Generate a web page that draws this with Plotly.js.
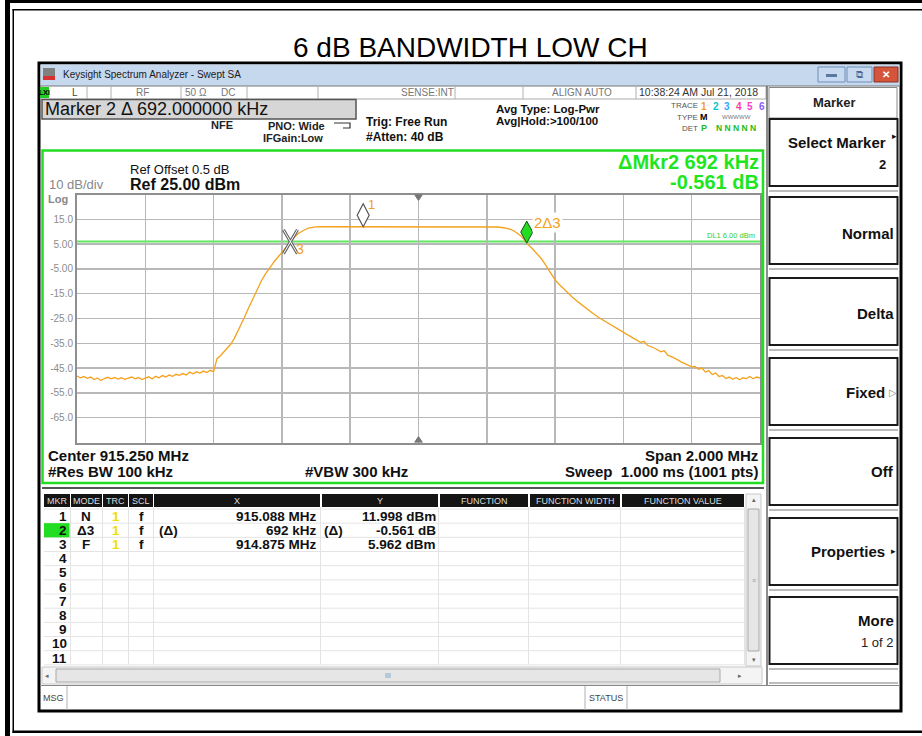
<!DOCTYPE html>
<html><head><meta charset="utf-8">
<script src="https://cdn.plot.ly/plotly-3.0.1.min.js"></script>
<style>html,body{margin:0;padding:0;background:#fff}</style>
</head><body><div id="chart" style="width:922px;height:736px"></div>
<script>
// ---------- DATA ----------
const freqMHz = [
914.25,914.26,914.27,914.28,914.29,914.30,914.31,914.32,914.33,914.34,
914.35,914.36,914.37,914.38,914.39,914.40,914.41,914.42,914.43,914.44,
914.45,914.46,914.47,914.48,914.49,914.50,914.51,914.52,914.53,914.54,
914.55,914.56,914.57,914.58,914.59,914.60,914.61,914.62,914.63,914.64,914.65,
914.655,914.66,914.67,914.68,914.69,914.70,914.71,914.72,914.73,914.74,
914.75,914.76,914.77,914.78,914.79,914.80,914.81,914.82,914.83,914.84,
914.85,914.86,914.87,914.875,914.88,914.89,914.90,914.91,914.92,914.93,
914.94,914.95,914.97,915.00,915.05,915.088,915.15,915.20,915.25,915.30,
915.35,915.40,915.45,915.48,915.50,915.51,915.52,915.53,915.54,915.55,
915.56,915.567,915.58,915.59,915.60,915.61,915.62,915.63,915.64,915.65,
915.66,915.67,915.68,915.69,915.70,915.72,915.74,915.76,915.78,915.80,
915.82,915.84,915.86,915.88,915.90,915.91,915.92,915.94,915.96,915.97,
915.98,916.00,916.02,916.04,916.05,916.06,916.07,916.08,916.09,916.10,
916.11,916.12,916.13,916.14,916.15,916.16,916.17,916.18,916.19,916.20,
916.21,916.22,916.23,916.24,916.25];
const levelDbm = [
-48.2,-48.9,-48.4,-49.1,-48.6,-49.6,-49.0,-50.0,-49.2,-48.7,
-49.3,-48.8,-49.4,-48.9,-49.5,-49.1,-48.6,-49.3,-48.8,-49.6,
-48.9,-48.5,-49.4,-48.3,-48.9,-48.0,-48.6,-47.8,-48.3,-47.5,
-47.9,-47.2,-47.8,-46.6,-47.3,-46.5,-47.0,-46.2,-46.8,-45.9,-46.4,
-43.5,-41.2,-40.0,-38.6,-37.0,-35.4,-33.2,-30.5,-27.6,-24.6,
-21.5,-18.4,-15.4,-12.3,-9.8,-7.4,-5.3,-3.4,-1.6,0.0,
1.6,3.3,4.9,5.962,6.8,8.3,9.5,10.4,11.0,11.5,
11.8,11.95,12.0,12.01,12.0,11.998,12.0,12.02,12.0,12.01,
12.0,11.99,12.0,11.9,11.6,11.3,10.9,10.3,9.4,8.3,
6.7,5.401,3.6,2.2,0.8,-0.9,-3.0,-5.2,-7.3,-9.4,
-11.0,-12.4,-13.7,-15.0,-16.3,-18.6,-20.8,-22.9,-24.8,-26.5,
-28.1,-29.8,-31.6,-33.0,-34.6,-34.2,-35.8,-36.9,-38.4,-38.0,
-39.8,-41.0,-42.6,-43.8,-44.5,-44.3,-45.5,-45.0,-46.6,-46.0,
-47.6,-47.0,-48.4,-48.0,-49.2,-48.6,-49.5,-48.8,-49.7,-48.9,
-49.2,-48.4,-49.3,-48.6,-49.0];

const centerMHz = 915.25, spanMHz = 2.0;
const refLevel = 25, dbPerDiv = 10, nDiv = 10;
const displayLine = 6.00;
const yTickVals = [15,5,-5,-15,-25,-35,-45,-55,-65];
const yTickText = ['15.0','5.00','-5.00','-15.0','-25.0','-35.0','-45.0','-55.0','-65.0'];

const mkrNum   = ['1','2','3','4','5','6','7','8','9','10','11'];
const mkrMode  = ['N','Δ3','F'];
const mkrTrc   = ['1','1','1'];
const mkrScl   = ['f','f','f'];
const mkrFreq  = [915.088, 915.567, 914.875];
const mkrLevel = [11.998, 5.401, 5.962];
const mkrXText = ['915.088 MHz','692 kHz','914.875 MHz'];
const mkrXPre  = ['','(Δ)',''];
const mkrYPre  = ['','(Δ)',''];
const mkrYText = ['11.998 dBm','-0.561 dB','5.962 dBm'];
const tableHeads = ['MKR','MODE','TRC','SCL','X','Y','FUNCTION','FUNCTION WIDTH','FUNCTION VALUE'];

// ---------- HELPERS ----------
const W=922,H=736;
const F='"Liberation Sans", Arial, sans-serif';
const px=v=>v/W, py=v=>1-v/H;
const shapes=[], ann=[];
function box(x0,y0,x1,y1,fill,lc,lw){shapes.push({type:'rect',xref:'paper',yref:'paper',x0:px(x0),x1:px(x1),y0:py(y1),y1:py(y0),fillcolor:fill||'rgba(0,0,0,0)',line:{color:lc||'rgba(0,0,0,0)',width:lw||0}});}
function hl(x0,x1,y,c,w){shapes.push({type:'line',xref:'paper',yref:'paper',x0:px(x0),x1:px(x1),y0:py(y),y1:py(y),line:{color:c,width:w||1}});}
function vl(x,y0,y1,c,w){shapes.push({type:'line',xref:'paper',yref:'paper',x0:px(x),x1:px(x),y0:py(y0),y1:py(y1),line:{color:c,width:w||1}});}
function t(x,y,s,size,color,anchor,bold,extra){const a={xref:'paper',yref:'paper',x:px(x),y:py(y),text:bold?'<b>'+s+'</b>':s,showarrow:false,xanchor:anchor||'left',yanchor:'middle',font:{size:size,color:color||'#000',family:F},borderpad:0};Object.assign(a,extra||{});ann.push(a);}

// ---------- PAGE FRAME ----------
box(5,0,10,736,'#000');
box(12.5,9,14,733,'#000');
box(5,0,922,3,'#000');
box(12.5,9,922,10.5,'#000');
box(12.5,730.5,922,733,'#000');
t(470,47,'6 dB BANDWIDTH LOW CH',28,'#000','center',false);

// ---------- WINDOW ----------
box(39,63,901,711,null,'#000',3);
box(40.5,64.5,899.5,86,'#c6d8ee');
box(43,68,55,76,'#808080'); box(43,76,55,80,'#d83030');
t(62,75,'Keysight Spectrum Analyzer - Swept SA',10,'#1b1b1b','left');
box(818,67,845,82,'#c7daf0','#6f8fb8',1); box(826,74,837,77,'#5a78a0');
box(847,67,872,82,'#c7daf0','#6f8fb8',1); t(859.5,74.5,'⧉',10,'#4a6890','center');
box(874,67,898,82,'#d4543c','#8a3020',1); t(886,74.5,'✕',10,'#fff','center',true);
// status row
hl(40,900,86,'#777',1); hl(40,766,99,'#aaa',1);
box(40,87,49,98,'#22cc22'); t(44.5,92.5,'LXI',7,'#000','center',true);
[87,111,181,247,318,455,523,636,766].forEach(x=>vl(x,86,99,'#b0b0b0',1));
t(75,92.5,'L',10,'#444','center');
t(142,92.5,'RF',10,'#777','center');
t(196,92.5,'50 Ω',10,'#777','center');
t(228,92.5,'DC',10,'#777','center');
t(427,92.5,'SENSE:INT',10,'#777','center');
t(582,92.5,'ALIGN AUTO',10,'#777','center');
t(698,92.5,'10:38:24 AM Jul 21, 2018',10.5,'#333','center');
// marker box
box(42,99.5,356,119,'#d6d6d6','#555',1.5);
t(44,109.5,'Marker 2 Δ 692.000000 kHz',18,'#111','left');
t(222,125,'NFE',11,'#222','center',true);
t(296,126,'PNO: Wide',11,'#222','center',true);
t(293,138,'IFGain:Low',11,'#222','center',true);
shapes.push({type:'path',xref:'paper',yref:'paper',path:`M ${px(334)} ${py(123)} L ${px(350)} ${py(123)} L ${px(350)} ${py(128)} L ${px(343)} ${py(128)}`,line:{color:'#333',width:1.2}});
t(365,122,'Trig: Free Run',12,'#111','left',true);
t(365,137,'#Atten: 40 dB',12,'#111','left',true);
t(495,108.5,'Avg Type: Log-Pwr',11.5,'#111','left',true);
t(495,121,'Avg|Hold:>100/100',11.5,'#111','left',true);
t(699,105,'TRACE',8,'#555','right');
t(699,117,'TYPE',8,'#555','right');
t(699,128,'DET',8,'#555','right');
const trColors=['#f0a020','#00c8d0','#30a8ff','#ff3c9a','#ff40d0','#8c5cff'];
trColors.forEach((c,i)=>t(704+i*11.6,106,String(i+1),10,c,'center',true));
t(704,117,'M',9,'#000','center',true);
t(736,117,'WWWWW',6,'#777','center');
t(704,128,'P',9,'#22bb22','center',true);
t(736,128,'N N N N N',8.5,'#22bb22','center',true);

// ---------- GREEN PLOT FRAME + TEXT ----------
box(42.5,150.5,763,483,null,'#22dd22',2.5);
t(129,170,'Ref Offset 0.5 dB',13,'#111','left');
t(129,185,'Ref 25.00 dBm',16,'#111','left',true);
t(48,185,'10 dB/div',13,'#888','left');
t(47,198.5,'Log',11,'#888','left',true);
t(760,162,'ΔMkr2 692 kHz',20,'#1ee61e','right',true);
t(760,182,'-0.561 dB',20,'#1ee61e','right',true);
t(47,455,'Center 915.250 MHz',15,'#111','left',true);
t(47,471,'#Res BW 100 kHz',15,'#111','left',true);
t(304,471,'#VBW 300 kHz',15,'#111','left',true);
t(759,455,'Span 2.000 MHz',15,'#111','right',true);
t(759,471,'Sweep  1.000 ms (1001 pts)',15,'#111','right',true);

// ---------- TABLE ----------
hl(42,764,488,'#555',2);
const cols=[[44,70],[71,102],[103,128],[129,153],[154,320],[322,438],[440,528],[530,620],[622,744]];
cols.forEach((c,i)=>{box(c[0],494,c[1],507,'#141414');t((c[0]+c[1])/2,500.5,tableHeads[i],9,'#dcdcdc','center');});
const rowY0=516.3, rowH=14.17;
for(let i=0;i<12;i++) hl(44,745,509+rowH*i,'#e4e4e4',1);
cols.forEach(c=>vl(c[1]+0.5,507,665,'#e4e4e4',1));
box(44,509+rowH,69.5,509+2*rowH,'#22dd22');
mkrNum.forEach((n,i)=>t(68,rowY0+rowH*i,n,13.5,'#111','right',true));
mkrMode.forEach((m,i)=>{const y=rowY0+rowH*i;
  t(86,y,m,13.5,'#111','center',true);
  t(115.5,y,mkrTrc[i],13.5,'#f0e000','center',true);
  t(141,y,mkrScl[i],13.5,'#111','center',true);
  if(mkrXPre[i]) t(158,y,mkrXPre[i],13.5,'#111','left',true);
  t(318,y,mkrXText[i],13.5,'#111','right',true);
  if(mkrYPre[i]) t(323,y,mkrYPre[i],13.5,'#111','left',true);
  t(437,y,mkrYText[i],13.5,'#111','right',true);
});
// vertical scrollbar
box(746,494,761,666,'#f4f4f4','#c8c8c8',1);
t(753.5,499,'▴',7,'#666','center');
box(748,509,759,651,'#e6e6e6','#a8a8a8',1);
t(753.5,580,'≡',7,'#999','center');
t(753.5,659,'▾',7,'#666','center');
// horizontal scrollbar
box(42,667,762,684,'#f4f4f4','#c8c8c8',1);
t(47,675.5,'◂',7,'#666','center');
box(56,669,720,682,'#e6e6e6','#a8a8a8',1);
t(388,675.5,'III',7,'#888','center');
t(740,675.5,'▸',7,'#666','center');
// MSG row
hl(40,900,685.5,'#888',1);
t(42,697.5,'MSG',9,'#444','left');
vl(67,686,710,'#b0b0b0',1);
vl(585,686,710,'#b0b0b0',1); vl(627,686,710,'#b0b0b0',1);
t(606,697.5,'STATUS',9,'#444','center');

// ---------- SOFTKEYS ----------
vl(767,86,685,'#666',1.5);
box(769,87.5,897,118,'#fff','#888',1);
t(834,102,'Marker',13,'#222','center',true);
const keyTops=[119,197,278,358,438,518,597];
keyTops.forEach(k=>{box(769.5,k,897.5,k+67,null,'#1a1a1a',2); hl(769,898,k+72,'#bdbdbd',2);});
hl(769,898,683,'#bdbdbd',2);
t(887,142,'Select Marker',15,'#111','right',true);
t(894,136,'▸',9,'#111','center');
t(887,164,'2',13,'#111','right',true);
t(895,233,'Normal',15,'#111','right',true);
t(895,313,'Delta',15,'#111','right',true);
t(886,392,'Fixed',15,'#111','right',true);
t(893,392,'▷',10,'#888','center');
t(895,471,'Off',15,'#111','right',true);
t(886,551,'Properties',15,'#111','right',true);
t(893,551,'▸',9,'#111','center');
t(895,620,'More',15,'#111','right',true);
t(895,642,'1 of 2',13,'#222','right');

// ---------- PLOT-REFERENCED ----------
const f0=centerMHz-spanMHz/2, f1=centerMHz+spanMHz/2;
const xGrid=[]; for(let i=1;i<nDiv;i++) xGrid.push(+(f0+i*spanMHz/nDiv).toFixed(3));
const yBot=refLevel-nDiv*dbPerDiv;
// display line
shapes.push({type:'line',xref:'x',yref:'y',x0:f0,x1:f1,y0:displayLine,y1:displayLine,line:{color:'#5fe85f',width:2},layer:'below'});
ann.push({xref:'x',yref:'y',x:f1,y:displayLine,text:'DL1 6.00 dBm',showarrow:false,xanchor:'right',yanchor:'bottom',xshift:-3,yshift:0,font:{size:7.5,color:'#33cc33',family:F}});
// trigger triangles
shapes.push({type:'path',xref:'x',yref:'y',xsizemode:'pixel',ysizemode:'pixel',xanchor:centerMHz,yanchor:refLevel,path:'M -4 0 L 4 0 L 0 -6 Z',fillcolor:'#777',line:{color:'#777',width:1}});
shapes.push({type:'path',xref:'x',yref:'y',xsizemode:'pixel',ysizemode:'pixel',xanchor:centerMHz,yanchor:yBot,path:'M -4 0 L 4 0 L 0 6 Z',fillcolor:'#777',line:{color:'#777',width:1}});
// marker 1 open diamond (tip on trace)
shapes.push({type:'path',xref:'x',yref:'y',xsizemode:'pixel',ysizemode:'pixel',xanchor:mkrFreq[0],yanchor:mkrLevel[0],path:'M 0 0 L 6 11.5 L 0 23 L -6 11.5 Z',fillcolor:'#fff',line:{color:'#555',width:1.2}});
// marker 2 filled green diamond
shapes.push({type:'path',xref:'x',yref:'y',xsizemode:'pixel',ysizemode:'pixel',xanchor:mkrFreq[1],yanchor:mkrLevel[1],path:'M 0 0 L 6 11 L 0 22 L -6 11 Z',fillcolor:'#22dd22',line:{color:'#1d4d1d',width:1}});
// marker 3 X
['#666','#fff'].forEach((c,k)=>{
  shapes.push({type:'path',xref:'x',yref:'y',xsizemode:'pixel',ysizemode:'pixel',xanchor:mkrFreq[2],yanchor:mkrLevel[2],path:'M -7 -12 L 7 12 M -7 12 L 7 -12',line:{color:c,width:k?1:3.2}});
});
const mkLbl=(i,txt,dx,dy,size,bg)=>ann.push({xref:'x',yref:'y',x:mkrFreq[i],y:mkrLevel[i],text:txt,showarrow:false,xanchor:'center',yanchor:'middle',xshift:dx,yshift:dy,font:{size:size,color:'#f0a020',family:F},bgcolor:bg||'rgba(0,0,0,0)',borderpad:1});
mkLbl(0,'1',8,22,13);
mkLbl(1,'2Δ3',21,21,15,'#fff');
mkLbl(2,'3',10,-7,14);

const trace={x:freqMHz,y:levelDbm,type:'scatter',mode:'lines',line:{color:'#f5a11c',width:1.3},hoverinfo:'skip'};

const layout={
  width:W,height:H,margin:{l:0,r:0,t:0,b:0},
  paper_bgcolor:'#fff',plot_bgcolor:'rgba(0,0,0,0)',showlegend:false,
  xaxis:{domain:[px(77),px(760)],range:[f0,f1],tickvals:xGrid,showticklabels:false,ticks:'',
    showgrid:true,gridcolor:'#b8b8b8',gridwidth:1.5,zeroline:false,showline:true,mirror:true,linecolor:'#8f8f8f',linewidth:2,fixedrange:true},
  yaxis:{domain:[py(442.5),py(194.5)],range:[yBot,refLevel],tickvals:yTickVals,ticktext:yTickText,ticks:'',
    tickfont:{size:10,color:'#8c8c8c',family:F},showgrid:true,gridcolor:'#b8b8b8',gridwidth:1.5,zeroline:false,
    showline:true,mirror:true,linecolor:'#8f8f8f',linewidth:2,fixedrange:true},
  shapes:shapes,annotations:ann
};
Plotly.newPlot('chart',[trace],layout,{staticPlot:true,displayModeBar:false});
</script></body></html>
